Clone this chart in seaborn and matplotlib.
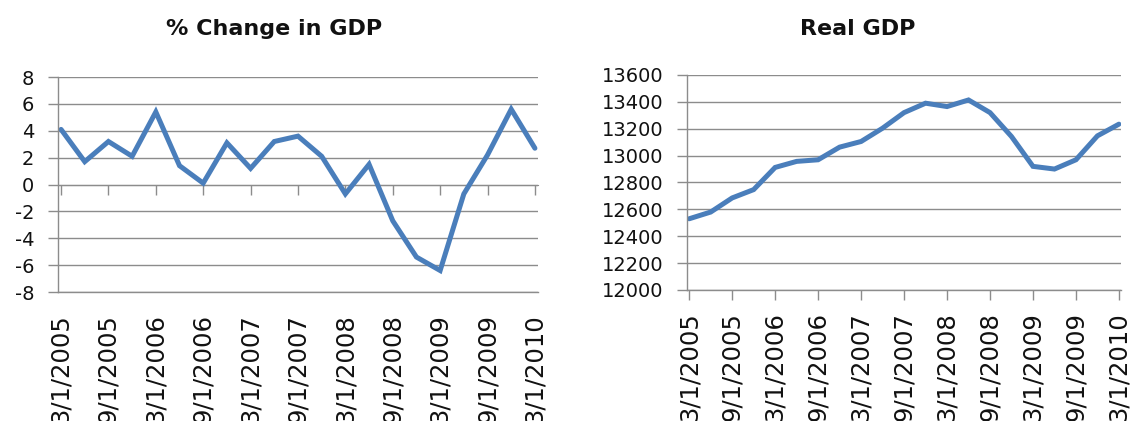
import matplotlib
matplotlib.use("Agg")
import matplotlib.pyplot as plt
import seaborn as sns
import pandas as pd

# Quarterly observations, 2005 Q1 through 2010 Q1
quarters = [
    "3/1/2005", "6/1/2005", "9/1/2005", "12/1/2005",
    "3/1/2006", "6/1/2006", "9/1/2006", "12/1/2006",
    "3/1/2007", "6/1/2007", "9/1/2007", "12/1/2007",
    "3/1/2008", "6/1/2008", "9/1/2008", "12/1/2008",
    "3/1/2009", "6/1/2009", "9/1/2009", "12/1/2009",
    "3/1/2010",
]
pct_change = [4.1, 1.7, 3.2, 2.1, 5.4, 1.4, 0.1, 3.1, 1.2, 3.2, 3.6,
              2.1, -0.7, 1.5, -2.7, -5.4, -6.4, -0.7, 2.2, 5.6, 2.7]
real_gdp = [12530, 12580, 12685, 12747, 12912, 12957, 12969, 13063,
            13105, 13204, 13320, 13390, 13365, 13414, 13320, 13142,
            12920, 12900, 12969, 13147, 13234]

pct_ticks = [-8, -6, -4, -2, 0, 2, 4, 6, 8]
gdp_ticks = [12000, 12200, 12400, 12600, 12800, 13000, 13200, 13400, 13600]

df = pd.DataFrame({"pos": range(len(quarters)), "quarter": quarters,
                   "pct": pct_change, "gdp": real_gdp})

sns.set_style("white")
plt.rcParams["font.family"] = ["DejaVu Sans"]
plt.rcParams["axes.unicode_minus"] = False

LINE = "#4a7ebb"
GRID = "#8c8c8c"

fig = plt.figure(figsize=(11.3, 4.21), dpi=100)
ax1 = fig.add_axes([0.0513, 0.3064, 0.4248, 0.5107])
ax2 = fig.add_axes([0.6080, 0.3112, 0.3841, 0.5107])

label_pos = df["pos"][::2].tolist()
label_txt = df["quarter"][::2].tolist()


def style_axes(ax, yticks):
    ax.set_ylim(yticks[0], yticks[-1])
    ax.set_yticks(yticks)
    ax.yaxis.grid(True, color=GRID, linewidth=1.0)
    ax.xaxis.grid(False)
    for side in ("top", "right"):
        ax.spines[side].set_visible(False)
    for side in ("left", "bottom"):
        ax.spines[side].set_color(GRID)
        ax.spines[side].set_linewidth(1.0)
    ax.tick_params(axis="y", left=True, direction="out", length=7, width=1.0,
                   color=GRID, pad=10, labelsize=14, labelcolor="#111111")
    ax.set_xticks(label_pos)
    ax.set_xticklabels(label_txt, rotation=90, va="top", ha="center")
    ax.set_xlabel("")
    ax.set_ylabel("")


# Left panel: percent change, x axis crossing at zero
sns.lineplot(data=df, x="pos", y="pct", ax=ax1, color=LINE,
             linewidth=3.6, solid_joinstyle="miter")
style_axes(ax1, pct_ticks)
ax1.set_xlim(-0.13, 20.13)
ax1.tick_params(axis="x", length=0, pad=16, labelsize=17.5,
                labelcolor="#111111")
zero_axis = ax1.secondary_xaxis(0, transform=ax1.transData)
zero_axis.set_xticks(label_pos)
zero_axis.set_xticklabels([])
zero_axis.spines["bottom"].set_color(GRID)
zero_axis.tick_params(axis="x", bottom=True, top=False, direction="out",
                      length=7, width=1.0, color=GRID)

# Right panel: real GDP level
sns.lineplot(data=df, x="pos", y="gdp", ax=ax2, color=LINE,
             linewidth=3.6, solid_joinstyle="miter")
style_axes(ax2, gdp_ticks)
ax2.set_xlim(-0.1, 20.1)
ax2.tick_params(axis="x", bottom=True, direction="out", length=7, width=1.0,
                color=GRID, pad=9, labelsize=17.5, labelcolor="#111111")

fig.text(0.2425, 0.917, "% Change in GDP", ha="center", va="baseline",
         fontsize=16, fontweight="bold", color="#111111")
fig.text(0.759, 0.917, "Real GDP", ha="center", va="baseline",
         fontsize=16, fontweight="bold", color="#111111")

fig.savefig("out.png", dpi=100, facecolor="white")
